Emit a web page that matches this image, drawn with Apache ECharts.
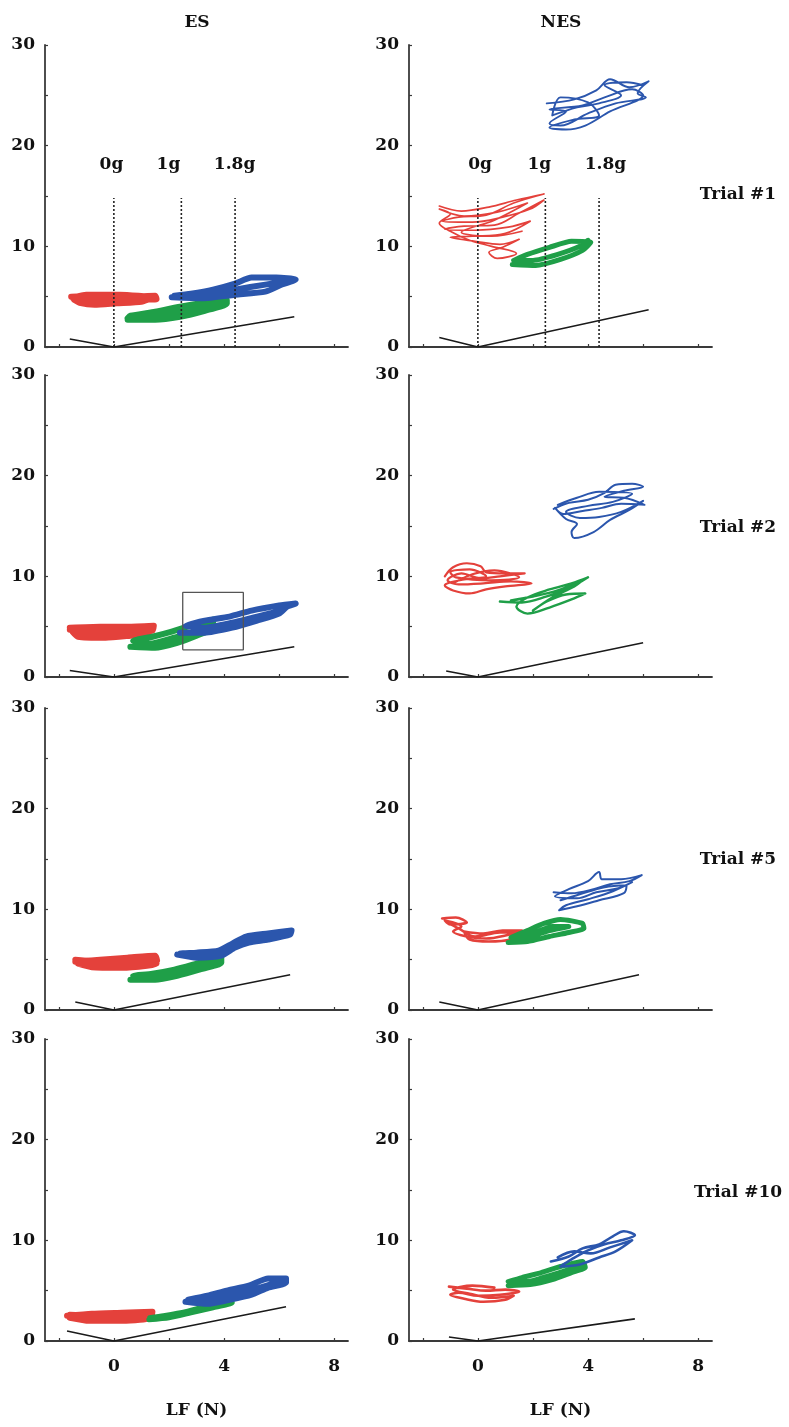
<!DOCTYPE html>
<html>
<head>
<meta charset="utf-8">
<script src="https://cdn.jsdelivr.net/npm/echarts@6/dist/echarts.min.js"></script>
<style>
html, body { margin: 0; padding: 0; background: #fff; }
#main { width: 789px; height: 1427px; }
</style>
</head>
<body>
<div id="main"></div>
<script>
// ---- axis ticks / labels ----
var xTicks = [-2, 0, 2, 4, 6, 8];
var xLabels = [0, 4, 8];
var yTicks = [0, 5, 10, 15, 20, 25, 30];
var yLabels = [0, 10, 20, 30];
var columns = ['ES', 'NES'];
var trials = ['Trial #1', 'Trial #2', 'Trial #5', 'Trial #10'];

// ---- gravity markers (trial #1 only) ----
var gNames = ['0g', '1g', '1.8g'];
var gLineX = [0, 2.45, 4.4];
var gLineTop = 14.8;
var gLabelY = 18.1;
var esLabelX = [-0.07, 2.0, 4.4];
var nesLabelX = [0.1, 2.25, 4.65];

// ---- ES trial 1 ----
var esT1Red = [[-1.55,5.0],[-0.5,5.1],[0.6,5.0],[1.5,5.1],[1.55,4.75],[0.5,4.7],[-0.6,4.6],[-1.45,4.7],[-1.2,4.35],[-0.7,4.2],[0.1,4.35],[1.0,4.5],[1.4,4.9],[0.2,5.2],[-1.0,5.2],[-1.5,4.9]];
var esT1Green = [[0.5,2.7],[1.5,2.7],[2.4,3.0],[3.3,3.6],[4.1,4.3],[4.1,4.65],[3.3,4.4],[2.4,4.0],[1.5,3.5],[0.6,3.1],[0.5,2.85],[1.5,3.1],[2.4,3.5],[3.3,4.0],[4.0,4.45]];
var esT1Blue = [[2.1,4.95],[3.2,4.85],[4.4,5.2],[5.5,5.5],[6.1,6.2],[6.6,6.7],[5.9,6.9],[5.0,6.9],[4.4,6.3],[3.6,5.7],[2.8,5.3],[2.2,5.1],[3.2,5.1],[4.4,5.7],[5.5,6.2],[6.4,6.6]];
var esT1Load = [[-1.6,0.8],[0,0],[6.55,3.0]];

// ---- NES trial 1 ----
var nesT1Red = [[-1.4,14.0],[-0.6,13.5],[0.4,13.9],[1.4,14.6],[2.4,15.2],[1.3,14.3],[0.3,13.1],[-0.7,12.9],[-1.3,12.5],[-0.2,12.4],[0.9,12.9],[1.9,13.7],[2.4,14.6],[1.5,13.3],[0.6,12.1],[-0.5,12.0],[-1.2,11.7],[-0.1,11.6],[1.1,11.9],[1.9,12.5],[1.0,11.3],[-0.2,11.0],[-1.0,10.9],[-0.1,10.5],[0.8,10.2],[1.5,10.7],[0.9,9.9],[0.4,9.4],[0.7,8.8],[1.4,9.3],[0.5,10.0],[-0.3,10.6],[-1.0,11.5],[-1.4,12.3],[-1.0,13.2],[-1.4,13.7],[-0.5,13.0],[0.7,13.4],[1.8,14.3],[0.6,12.6],[-0.6,11.4],[0.5,11.0],[1.6,11.5]];
var nesT1Green = [[1.25,8.2],[2.1,8.1],[3.0,8.7],[3.8,9.6],[4.1,10.4],[3.4,10.5],[2.6,9.9],[1.8,9.2],[1.3,8.6],[2.0,8.6],[2.9,9.2],[3.7,10.0],[4.0,10.6]];
var nesT1Blue = [[2.5,24.2],[3.5,24.6],[4.3,25.5],[4.8,26.6],[5.5,25.8],[6.2,26.4],[5.8,25.2],[6.1,24.8],[5.0,24.2],[4.0,23.2],[3.0,22.0],[2.6,22.2],[3.2,23.4],[2.6,23.6],[3.8,24.0],[4.6,24.8],[5.6,25.6],[6.0,25.0],[4.8,23.4],[3.9,22.0],[3.2,21.6],[2.6,21.8],[3.5,22.6],[4.4,23.0],[4.0,24.3],[3.0,24.8],[2.7,23.0],[3.6,23.8],[4.4,24.2],[5.2,25.0],[4.6,26.0],[5.4,26.3],[6.0,26.0]];
var nesT1Load = [[-1.4,0.95],[0,0],[6.2,3.7]];

// ---- ES trial 2 ----
var esT2Red = [[-1.6,4.9],[-0.5,5.0],[0.5,5.0],[1.45,5.1],[1.4,4.6],[0.5,4.5],[-0.5,4.3],[-1.5,4.5],[-1.3,4.0],[-0.3,3.9],[0.6,4.1],[1.3,4.3],[1.0,4.8],[-0.6,4.7],[-1.6,4.7]];
var esT2Green = [[0.6,3.0],[1.5,2.9],[2.3,3.4],[3.0,4.1],[3.6,4.9],[3.6,5.7],[2.9,5.2],[2.1,4.5],[1.4,4.0],[0.7,3.6],[1.3,3.3],[2.2,3.9],[3.0,4.6],[3.5,5.3]];
var esT2Blue = [[2.4,4.4],[3.3,4.4],[4.3,4.9],[5.2,5.6],[6.0,6.3],[6.3,7.0],[6.6,7.3],[6.0,7.1],[5.0,6.6],[4.2,6.0],[3.3,5.6],[2.6,5.1],[3.3,4.9],[4.3,5.4],[5.2,6.0],[6.1,6.6]];
var esT2Load = [[-1.6,0.65],[0,0],[6.55,3.0]];
var esT2Box = [[2.5,2.7],[4.7,2.7],[4.7,8.4],[2.5,8.4],[2.5,2.7]];

// ---- NES trial 2 ----
var nesT2Red = [[-1.2,10.0],[-0.9,10.9],[-0.4,11.3],[0.1,11.0],[0.3,10.4],[1.0,10.3],[1.7,10.3],[0.8,10.0],[0.1,9.8],[-0.6,10.3],[-1.1,9.6],[-0.7,9.2],[0.2,9.3],[1.2,9.5],[1.95,9.3],[1.0,9.0],[0.3,8.7],[-0.3,8.3],[-0.9,8.6],[-1.2,9.1],[-0.5,9.7],[0.3,10.0],[-0.3,10.7],[-1.0,10.4],[-0.8,9.9],[0.5,9.6],[1.5,9.9],[0.6,10.6],[-0.2,10.2],[-0.9,9.3]];
var nesT2Green = [[0.8,7.5],[1.6,7.4],[2.5,8.0],[3.3,8.8],[4.0,9.9],[3.4,9.3],[2.6,8.7],[1.8,7.9],[1.4,7.0],[1.8,6.3],[2.6,6.9],[3.4,7.7],[3.9,8.3],[3.2,8.2],[2.5,7.5],[2.0,6.6],[2.7,7.9],[3.5,9.0],[3.8,9.6],[2.9,8.6],[2.0,8.0],[1.2,7.6]];
var nesT2Blue = [[2.75,16.7],[3.3,17.3],[4.0,17.6],[4.6,18.3],[5.0,19.1],[5.6,19.2],[6.0,18.9],[5.3,18.5],[4.6,17.9],[5.3,17.8],[6.05,17.1],[5.2,17.2],[4.5,16.8],[3.8,16.5],[3.1,16.2],[2.8,16.8],[3.2,15.7],[3.6,15.2],[3.4,14.4],[3.5,13.8],[4.2,14.4],[4.8,15.6],[5.5,16.6],[6.0,17.5],[5.2,16.4],[4.4,15.9],[3.7,15.8],[3.2,16.4],[4.0,17.0],[4.9,17.4],[5.6,18.2],[4.4,18.4],[3.6,17.8],[2.9,17.1]];
var nesT2Load = [[-1.15,0.6],[0,0],[6.0,3.4]];

// ---- ES trial 5 ----
var esT5Red = [[-1.4,4.8],[-0.5,5.0],[0.5,5.2],[1.5,5.4],[1.57,4.9],[0.6,4.6],[-0.4,4.5],[-1.3,4.6],[-0.8,4.25],[0.3,4.2],[1.2,4.4],[1.55,4.6],[0.8,5.0],[-0.3,4.8],[-1.4,5.0]];
var esT5Green = [[0.6,3.0],[1.5,3.0],[2.3,3.4],[3.1,4.0],[3.9,4.7],[3.9,5.3],[3.0,4.6],[2.2,4.0],[1.4,3.6],[0.7,3.4],[1.5,3.3],[2.3,3.7],[3.1,4.3],[3.8,5.0]];
var esT5Blue = [[2.3,5.5],[3.0,5.2],[3.9,5.4],[4.4,6.2],[4.9,6.7],[5.6,7.0],[6.4,7.5],[6.45,7.9],[5.6,7.6],[4.8,7.3],[4.3,6.6],[3.8,5.9],[3.0,5.7],[2.4,5.6],[3.2,5.45],[3.9,5.7],[4.5,6.5],[5.2,7.1],[6.3,7.7]];
var esT5Load = [[-1.4,0.8],[0,0],[6.4,3.5]];

// ---- NES trial 5 ----
var nesT5Red = [[-1.3,9.1],[-0.8,9.2],[-0.4,8.7],[-1.0,8.5],[-1.2,8.9],[-0.6,8.3],[-0.9,7.8],[-0.4,7.3],[0.3,7.1],[1.0,7.4],[1.6,7.9],[0.9,7.9],[0.2,7.6],[-0.5,7.8],[-0.3,7.0],[0.4,6.8],[1.2,7.0],[1.6,7.6],[0.8,7.7],[-0.1,7.3],[-0.7,8.1],[-1.1,8.7]];
var nesT5Green = [[1.1,6.7],[1.8,6.8],[2.6,7.3],[3.3,7.7],[3.85,8.1],[3.8,8.6],[3.0,9.0],[2.4,8.6],[1.8,7.9],[1.2,7.2],[1.9,7.3],[2.6,7.9],[3.3,8.3],[2.7,8.3],[2.0,7.6],[1.4,6.9]];
var nesT5Blue = [[2.75,11.7],[3.4,11.6],[4.2,12.0],[4.8,12.5],[5.5,12.8],[5.95,13.4],[5.2,13.0],[4.5,13.0],[4.4,13.7],[4.0,12.8],[3.3,12.0],[2.8,11.3],[3.6,11.1],[4.3,11.7],[5.1,12.1],[5.6,12.7],[4.9,11.8],[4.0,11.0],[3.2,10.4],[2.95,9.9],[3.6,10.3],[4.4,10.9],[5.3,11.6],[5.4,12.4],[4.6,12.2],[3.7,11.5],[3.0,10.9]];
var nesT5Load = [[-1.4,0.8],[0,0],[5.85,3.5]];

// ---- ES trial 10 ----
var esT10Red = [[-1.7,2.5],[-0.8,2.7],[0.3,2.8],[1.4,2.9],[1.35,2.4],[0.4,2.2],[-0.6,2.1],[-1.6,2.3],[-0.9,2.0],[0.2,2.0],[1.2,2.2],[1.0,2.6],[-0.5,2.45],[-1.6,2.6]];
var esT10Green = [[1.27,2.1],[2.0,2.3],[2.8,2.8],[3.6,3.3],[4.3,3.8],[4.2,4.1],[3.4,3.5],[2.6,2.9],[1.8,2.5],[1.3,2.3]];
var esT10Blue = [[2.6,3.9],[3.4,3.7],[4.2,4.1],[5.0,4.6],[5.6,5.3],[6.25,5.8],[6.25,6.2],[5.6,6.2],[4.9,5.5],[4.1,5.0],[3.4,4.5],[2.7,4.1],[3.5,4.1],[4.3,4.6],[5.2,5.2],[6.0,5.9]];
var esT10Load = [[-1.7,1.0],[0,0],[6.25,3.4]];

// ---- NES trial 10 ----
var nesT10Red = [[-1.05,5.4],[-0.4,5.2],[0.3,5.0],[1.0,5.1],[1.5,4.9],[0.8,4.6],[0.0,4.5],[-0.7,4.8],[-1.0,4.6],[-0.5,4.2],[0.2,3.9],[1.0,4.1],[1.3,4.5],[0.5,4.3],[-0.3,4.7],[-0.9,5.1],[-0.2,5.5],[0.6,5.3]];
var nesT10Green = [[1.1,5.5],[1.9,5.6],[2.7,6.1],[3.4,6.8],[3.9,7.3],[3.8,7.9],[3.0,7.4],[2.3,6.8],[1.6,6.3],[1.1,5.9],[1.8,5.9],[2.6,6.5],[3.3,7.1],[3.8,7.6]];
var nesT10Blue = [[2.65,7.9],[3.3,8.4],[3.8,9.2],[4.4,9.6],[4.9,10.4],[5.3,10.9],[5.7,10.5],[5.2,10.0],[4.6,9.6],[4.0,9.0],[3.4,8.1],[3.0,7.4],[3.7,7.6],[4.4,8.3],[5.0,8.9],[5.6,10.0],[4.8,9.3],[4.1,8.7],[3.5,8.9],[2.9,8.3]];
var nesT10Load = [[-1.05,0.4],[0,0],[5.7,2.2]];

// panels in reading order: row by row, ES then NES
// width of each trace: thick = smeared band, thin = visible loops
var panels = [
	{red: esT1Red, green: esT1Green, blue: esT1Blue, load: esT1Load, widths: [6, 6, 6]},
	{red: nesT1Red, green: nesT1Green, blue: nesT1Blue, load: nesT1Load, widths: [1.7, 5, 1.9]},
	{red: esT2Red, green: esT2Green, blue: esT2Blue, load: esT2Load, widths: [6, 6, 6]},
	{red: nesT2Red, green: nesT2Green, blue: nesT2Blue, load: nesT2Load, widths: [2.2, 2.4, 2]},
	{red: esT5Red, green: esT5Green, blue: esT5Blue, load: esT5Load, widths: [6, 6, 6]},
	{red: nesT5Red, green: nesT5Green, blue: nesT5Blue, load: nesT5Load, widths: [2.5, 5, 2]},
	{red: esT10Red, green: esT10Green, blue: esT10Blue, load: esT10Load, widths: [6, 5, 6]},
	{red: nesT10Red, green: nesT10Green, blue: nesT10Blue, load: nesT10Load, widths: [2.6, 5, 2.6]}
];

var colors = ['#e4413b', '#1f9f48', '#2b56ad'];
var font = 'DejaVu Serif';
var axisColor = '#3a3a3a';
var gridTops = [45, 375, 708, 1039];
var colLefts = [45, 409];
var textStyle = {color: '#111', fontFamily: font, fontWeight: 'bold', fontSize: 17};

var grids = [], xAxes = [], yAxes = [], series = [];

panels.forEach(function(p, i){
	var row = Math.floor(i / 2), col = i % 2;
	var bottomRow = row == 3;
	grids.push({left: colLefts[col], top: gridTops[row], width: 303, height: 302});
	xAxes.push({
		gridIndex: i, type: 'value', min: -2.5, max: 8.5,
		axisLine: {onZero: false, lineStyle: {color: axisColor, width: 1.8}},
		axisTick: {show: true, inside: true, length: 3, customValues: xTicks, lineStyle: {color: axisColor, width: 1.2}},
		axisLabel: Object.assign({show: bottomRow, customValues: xLabels, margin: 17}, textStyle),
		splitLine: {show: false},
		name: bottomRow ? 'LF (N)' : '', nameLocation: 'middle', nameGap: 61,
		nameTextStyle: textStyle
	});
	yAxes.push({
		gridIndex: i, type: 'value', min: 0, max: 30, interval: 5,
		axisLine: {show: true, onZero: false, lineStyle: {color: axisColor, width: 1.8}},
		axisTick: {show: true, inside: true, length: 3, customValues: yTicks, lineStyle: {color: axisColor, width: 1.2}},
		axisLabel: Object.assign({customValues: yLabels, margin: 10}, textStyle),
		splitLine: {show: false}
	});
	[p.red, p.green, p.blue].forEach(function(d, k){
		var thick = p.widths[k] > 4;
		series.push({
			type: 'line', xAxisIndex: i, yAxisIndex: i, data: d,
			symbol: 'none', smooth: thick ? 0.2 : 0.35, silent: true,
			lineStyle: {color: colors[k], width: p.widths[k], join: 'round', cap: 'round'}
		});
	});
	series.push({
		type: 'line', xAxisIndex: i, yAxisIndex: i, data: p.load,
		symbol: 'none', silent: true, lineStyle: {color: '#1a1a1a', width: 1.6}
	});
});

// dotted gravity lines and labels for trial #1
[0, 1].forEach(function(i){
	gLineX.forEach(function(x){
		series.push({
			type: 'line', xAxisIndex: i, yAxisIndex: i, data: [[x, 0], [x, gLineTop]],
			symbol: 'none', silent: true, z: 3,
			lineStyle: {color: '#222', width: 1.6, type: [2, 2]}
		});
	});
	var lx = i == 0 ? esLabelX : nesLabelX;
	series.push({
		type: 'scatter', xAxisIndex: i, yAxisIndex: i, silent: true,
		symbolSize: 1, itemStyle: {color: '#fff', opacity: 1},
		data: gNames.map(function(n, k){ return [lx[k], gLabelY, n]; }),
		label: Object.assign({show: true, position: [0, 0], align: 'center', verticalAlign: 'middle',
			textBorderWidth: 0, opacity: 1, formatter: function(pr){ return pr.value[2]; }}, textStyle)
	});
});

// magnified region box on ES trial #2
series.push({
	type: 'line', xAxisIndex: 2, yAxisIndex: 2, data: esT2Box,
	symbol: 'none', silent: true, z: 4, lineStyle: {color: '#555', width: 1.3}
});

var graphic = [];
var titleFont = 'bold 17px "DejaVu Serif"';
columns.forEach(function(c, k){
	graphic.push({type: 'text', x: [197, 561][k], y: 23,
		style: {text: c, fill: '#111', font: titleFont, textAlign: 'center', textVerticalAlign: 'middle'}});
});
var trialY = [195, 528, 860, 1193];
trials.forEach(function(t, k){
	graphic.push({type: 'text', x: 738, y: trialY[k],
		style: {text: t, fill: '#111', font: titleFont, textAlign: 'center', textVerticalAlign: 'middle'}});
});

var chart = echarts.init(document.getElementById('main'));
chart.setOption({
	animation: false,
	backgroundColor: '#fff',
	grid: grids,
	xAxis: xAxes,
	yAxis: yAxes,
	series: series,
	graphic: graphic
});
</script>
</body>
</html>
